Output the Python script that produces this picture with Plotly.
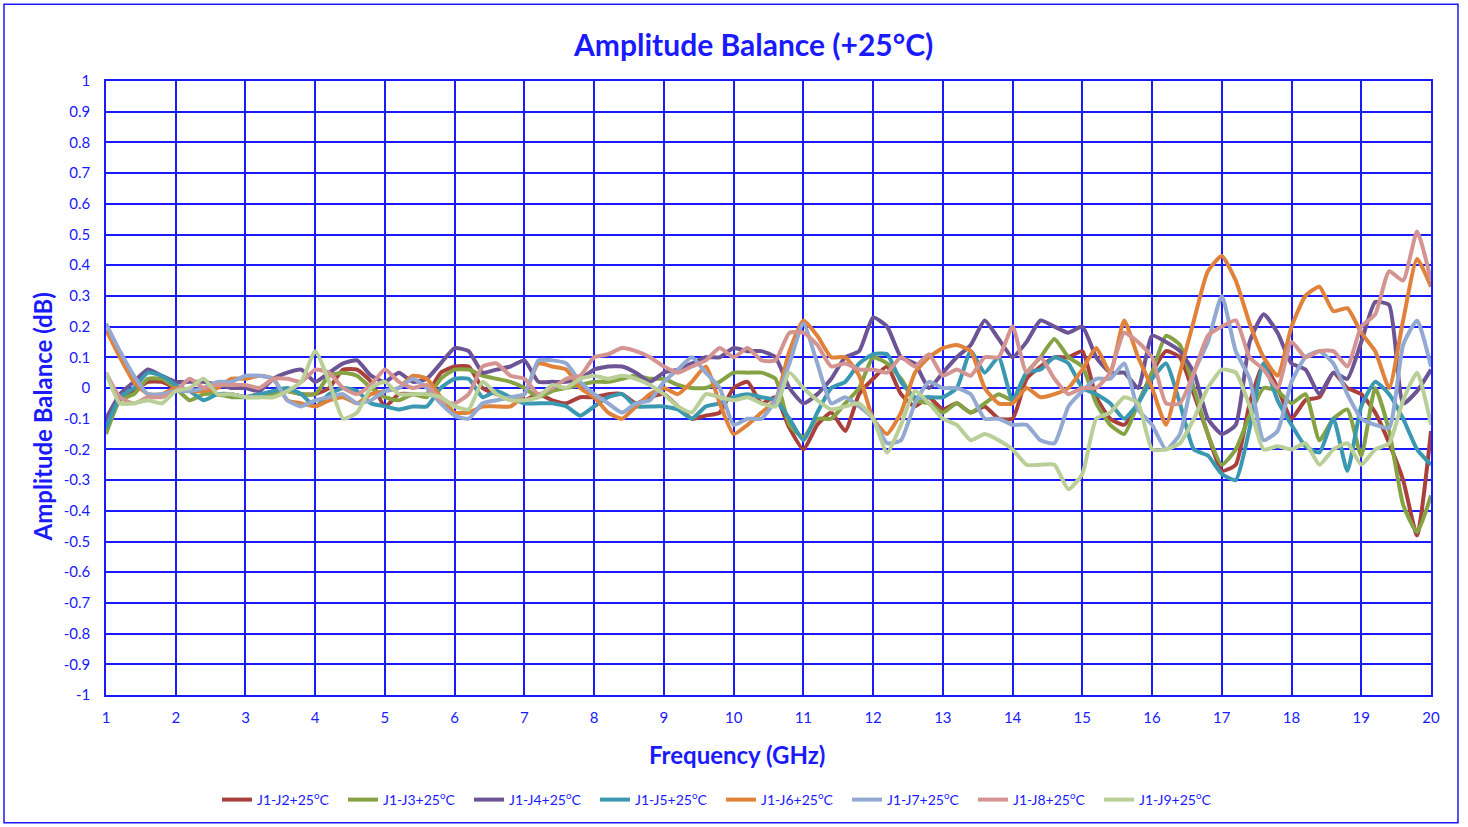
import plotly.graph_objects as go

freq_ghz = [round(1.0 + 0.2 * i, 1) for i in range(96)]

j1_j2 = [-0.12, -0.03, -0.01, 0.02, 0.02,
         0.00, -0.01, -0.01, -0.02, -0.02,
         -0.03, -0.02, -0.02, -0.01, -0.02,
         -0.02, 0.00, 0.06, 0.06, 0.02,
         -0.06, -0.02, -0.02, -0.02, 0.05,
         0.07, 0.07, 0.00, -0.02, -0.03,
         -0.04, -0.02, -0.04, -0.05, -0.03,
         -0.03, -0.02, -0.02, -0.05, -0.03,
         -0.02, -0.06, -0.10, -0.09, -0.08,
         0.00, 0.02, -0.05, -0.03, -0.13,
         -0.20, -0.12, -0.08, -0.14, -0.02,
         0.03, 0.07, -0.02, -0.06, -0.03,
         -0.07, -0.05, -0.08, -0.06, -0.10,
         -0.10, 0.03, 0.07, 0.10, 0.10,
         0.12, -0.03, -0.10, -0.12, -0.05,
         0.05, 0.12, 0.10, -0.02, -0.15,
         -0.27, -0.25, -0.05, 0.08, 0.00,
         -0.10, -0.04, -0.03, 0.05, 0.00,
         -0.02, -0.08, -0.18, -0.30, -0.48,
         -0.14]

j1_j3 = [-0.15, -0.04, -0.02, 0.03, 0.03,
         0.00, -0.04, -0.02, -0.02, -0.03,
         -0.03, -0.03, -0.02, -0.01, -0.02,
         -0.02, 0.04, 0.05, 0.04, 0.00,
         -0.03, -0.04, -0.02, -0.03, 0.03,
         0.06, 0.06, 0.04, 0.03, 0.02,
         0.00, -0.03, -0.01, 0.00, 0.01,
         0.02, 0.02, 0.03, 0.04, 0.03,
         0.03, 0.01, 0.00, 0.00, 0.02,
         0.05, 0.05, 0.05, 0.03, -0.12,
         -0.16, -0.10, -0.10, -0.05, 0.00,
         0.10, 0.08, 0.03, -0.04, -0.05,
         -0.08, -0.05, -0.08, -0.05, -0.02,
         -0.04, 0.05, 0.10, 0.16, 0.10,
         0.07, -0.05, -0.12, -0.15, -0.05,
         0.05, 0.17, 0.14, 0.00, -0.15,
         -0.25, -0.20, -0.09, 0.00, -0.01,
         -0.05, -0.02, -0.17, -0.10, -0.07,
         -0.22, 0.00, -0.14, -0.38, -0.47,
         -0.35]

j1_j4 = [-0.10, -0.02, 0.02, 0.06, 0.04,
         0.02, 0.02, 0.02, 0.01, 0.00,
         0.00, -0.01, 0.03, 0.05, 0.06,
         0.02, 0.05, 0.08, 0.09, 0.04,
         0.02, 0.05, 0.02, 0.03, 0.08,
         0.13, 0.12, 0.05, 0.06, 0.07,
         0.09, 0.02, 0.02, 0.02, 0.03,
         0.06, 0.07, 0.07, 0.05, 0.02,
         0.05, 0.06, 0.08, 0.10, 0.10,
         0.13, 0.12, 0.12, 0.10, 0.00,
         -0.05, -0.02, 0.03, 0.10, 0.12,
         0.23, 0.20, 0.10, 0.08, 0.00,
         0.05, 0.10, 0.14, 0.22, 0.16,
         0.10, 0.15, 0.22, 0.20, 0.18,
         0.20, 0.10, 0.05, 0.05, 0.00,
         0.17, 0.15, 0.12, 0.05, -0.10,
         -0.15, -0.12, 0.15, 0.24, 0.18,
         0.08, 0.06, -0.02, 0.05, 0.03,
         0.15, 0.28, 0.27, -0.05, -0.01,
         0.06]

j1_j5 = [-0.13, -0.03, 0.00, 0.05, 0.04,
         0.01, -0.01, -0.04, -0.02, -0.02,
         -0.03, -0.02, -0.01, 0.00, -0.02,
         -0.06, -0.02, 0.00, -0.01, -0.05,
         -0.06, -0.07, -0.06, -0.06, 0.00,
         0.03, 0.03, -0.03, -0.01, -0.03,
         -0.05, -0.05, -0.05, -0.06, -0.09,
         -0.06, -0.03, -0.02, -0.06, -0.06,
         -0.06, -0.07, -0.10, -0.06, -0.05,
         -0.03, -0.02, -0.03, -0.04, -0.10,
         -0.17, -0.08, 0.00, 0.02, 0.08,
         0.11, 0.11, 0.02, -0.03, -0.03,
         -0.03, 0.00, 0.12, 0.05, 0.10,
         -0.04, 0.05, 0.06, 0.10, 0.08,
         0.00, -0.02, -0.05, -0.10, -0.05,
         0.03, 0.08, -0.05, -0.20, -0.22,
         -0.28, -0.30, -0.13, 0.08, -0.04,
         -0.12, -0.19, -0.21, -0.10, -0.27,
         -0.06, 0.02, -0.02, -0.10, -0.20,
         -0.25]

j1_j6 = [0.19, 0.10, 0.02, -0.02, -0.02,
         0.00, -0.01, -0.01, 0.00, 0.03,
         0.03, 0.04, 0.03, -0.04, -0.05,
         -0.06, -0.04, -0.03, -0.05, -0.02,
         -0.01, 0.00, 0.04, 0.03, -0.03,
         -0.08, -0.08, -0.06, -0.06, -0.06,
         -0.02, 0.08, 0.07, 0.06, 0.00,
         -0.03, -0.08, -0.10, -0.06, -0.02,
         0.00, -0.02, 0.02, 0.07, -0.05,
         -0.15, -0.12, -0.08, -0.04, 0.12,
         0.22, 0.17, 0.10, 0.10, 0.04,
         -0.10, -0.15, -0.08, 0.05, 0.10,
         0.13, 0.14, 0.12, 0.00, -0.05,
         -0.05, 0.00, -0.03, -0.02, 0.00,
         0.06, 0.13, 0.05, 0.22, 0.10,
         0.00, -0.12, 0.05, 0.22, 0.38,
         0.43, 0.35, 0.21, 0.10, 0.04,
         0.20, 0.30, 0.33, 0.25, 0.26,
         0.18, 0.12, 0.00, 0.22, 0.42,
         0.33]

j1_j7 = [0.21, 0.12, 0.04, -0.02, -0.02,
         -0.01, -0.01, 0.00, 0.02, 0.02,
         0.04, 0.04, 0.03, -0.04, -0.06,
         -0.04, -0.03, -0.02, -0.05, -0.04,
         -0.01, 0.00, 0.03, 0.00, -0.05,
         -0.09, -0.10, -0.05, -0.04, -0.03,
         -0.02, 0.09, 0.09, 0.08, 0.02,
         -0.02, -0.05, -0.08, -0.05, -0.04,
         0.02, 0.06, 0.10, 0.05, 0.00,
         -0.12, -0.10, -0.10, -0.04, 0.08,
         0.21, 0.08, -0.05, -0.03, -0.06,
         -0.10, -0.18, -0.17, -0.05, 0.02,
         0.00, 0.00, -0.02, -0.10, -0.10,
         -0.12, -0.12, -0.17, -0.18, -0.06,
         -0.01, 0.03, 0.03, 0.08, -0.07,
         -0.12, -0.20, -0.15, 0.05, 0.15,
         0.30, 0.12, 0.03, -0.17, -0.14,
         0.02, 0.10, 0.12, 0.08, -0.02,
         -0.10, -0.12, -0.13, 0.14, 0.22,
         0.07]

j1_j8 = [0.05, -0.03, -0.05, -0.03, -0.03,
         -0.01, 0.03, 0.00, 0.01, 0.01,
         0.01, 0.00, 0.03, 0.03, 0.02,
         0.06, 0.05, 0.00, -0.02, 0.01,
         0.06, 0.02, 0.00, 0.01, -0.04,
         -0.05, -0.02, 0.07, 0.08, 0.04,
         0.03, -0.02, 0.00, 0.03, 0.04,
         0.10, 0.11, 0.13, 0.12, 0.10,
         0.07, 0.05, 0.07, 0.09, 0.13,
         0.10, 0.13, 0.09, 0.09, 0.18,
         0.18, 0.14, 0.07, 0.08, 0.06,
         0.06, 0.05, 0.10, 0.07, 0.11,
         0.04, 0.06, 0.04, 0.10, 0.10,
         0.20, 0.05, 0.10, 0.03, -0.02,
         0.00, 0.00, 0.05, 0.18, 0.15,
         0.10, -0.05, -0.05, 0.05, 0.17,
         0.20, 0.22, 0.10, 0.06, 0.00,
         0.15, 0.10, 0.12, 0.12, 0.07,
         0.20, 0.24, 0.38, 0.35, 0.51,
         0.35]

j1_j9 = [0.05, -0.05, -0.05, -0.04, -0.05,
         -0.01, 0.00, 0.03, -0.02, -0.02,
         -0.03, -0.03, -0.03, -0.01, 0.02,
         0.12, 0.02, -0.10, -0.08, 0.00,
         0.02, -0.02, -0.02, -0.02, -0.03,
         -0.06, -0.07, 0.02, -0.02, -0.04,
         -0.04, -0.03, 0.01, 0.00, 0.03,
         0.04, 0.03, 0.04, 0.03, 0.01,
         -0.02, -0.06, -0.08, -0.02, -0.03,
         -0.04, -0.03, -0.05, -0.06, 0.05,
         0.00, -0.04, -0.07, -0.06, -0.05,
         -0.10, -0.21, -0.12, -0.01, -0.05,
         -0.10, -0.12, -0.17, -0.15, -0.17,
         -0.20, -0.25, -0.25, -0.25, -0.33,
         -0.28, -0.10, -0.08, -0.03, -0.05,
         -0.20, -0.20, -0.18, -0.10, 0.00,
         0.06, 0.05, -0.06, -0.20, -0.19,
         -0.20, -0.18, -0.25, -0.20, -0.18,
         -0.25, -0.20, -0.18, -0.04, 0.05,
         -0.12]

series_names = ["J1-J2+25<sup>o</sup>C", "J1-J3+25<sup>o</sup>C", "J1-J4+25<sup>o</sup>C",
                "J1-J5+25<sup>o</sup>C", "J1-J6+25<sup>o</sup>C", "J1-J7+25<sup>o</sup>C",
                "J1-J8+25<sup>o</sup>C", "J1-J9+25<sup>o</sup>C"]
series_values = [j1_j2, j1_j3, j1_j4, j1_j5, j1_j6, j1_j7, j1_j8, j1_j9]
series_colors = ["#A9403C", "#86A344", "#6D5495", "#3A98B1",
                 "#E0823A", "#92A9D2", "#D49492", "#B9CF97"]

x_ticks = list(range(1, 21))
y_tick_vals = [round(-1 + 0.1 * i, 1) for i in range(21)]
y_tick_text = ["-1", "-0.9", "-0.8", "-0.7", "-0.6", "-0.5", "-0.4", "-0.3", "-0.2", "-0.1",
               "0", "0.1", "0.2", "0.3", "0.4", "0.5", "0.6", "0.7", "0.8", "0.9", "1"]

BLUE = "#1a1aff"
FONT = "Lato"

fig = go.Figure()
for name, vals, col in zip(series_names, series_values, series_colors):
    fig.add_trace(go.Scatter(x=freq_ghz, y=vals, mode="lines", name=name,
                             line=dict(color=col, width=4, shape="spline", smoothing=0.5)))

# figure fills the 1468x827 window (body margin removed by post_script)
W, H = 1468, 827
# plot area in page pixels: x 106..1431, y 81..696
PL, PR, PT, PB = 106, 1431, 81, 696
L, R, T, B = PL, W - PR, PT, H - PB
pw, ph = PR - PL, PB - PT

def px_x(page_x):
    return (page_x - PL) / pw

def px_y(page_y):
    return (PB - page_y) / ph

fig.update_layout(
    width=W, height=H,
    margin=dict(l=L, r=R, t=T, b=B),
    paper_bgcolor="white", plot_bgcolor="white",
    font=dict(family=FONT, color=BLUE),
    showlegend=True,
    legend=dict(orientation="h", x=px_x(721), xanchor="center", y=px_y(800), yanchor="middle",
                font=dict(family=FONT, size=14, color=BLUE),
                entrywidth=81, entrywidthmode="pixels", bgcolor="rgba(0,0,0,0)"),
    xaxis=dict(range=[1, 20], tickvals=x_ticks, showgrid=True, gridcolor=BLUE, gridwidth=1.5,
               showline=True, linecolor=BLUE, linewidth=1.5, mirror=True, zeroline=False,
               ticks="", ticklabelstandoff=8,
               tickfont=dict(family=FONT, size=15, color=BLUE)),
    yaxis=dict(range=[-1, 1], tickvals=y_tick_vals, ticktext=y_tick_text, showgrid=True,
               gridcolor=BLUE, gridwidth=1.5, showline=True, linecolor=BLUE, linewidth=1.5,
               mirror=True, zeroline=False, ticks="", ticklabelstandoff=11,
               tickfont=dict(family=FONT, size=15, color=BLUE)),
    annotations=[
        dict(text="<b>Amplitude Balance (+25°C)</b>", xref="paper", yref="paper",
             x=px_x(753), y=px_y(44), xanchor="center", yanchor="middle", showarrow=False,
             font=dict(family=FONT, size=30, color=BLUE)),
        dict(text="<b>Frequency (GHz)</b>", xref="paper", yref="paper",
             x=px_x(737), y=px_y(756), xanchor="center", yanchor="middle", showarrow=False,
             font=dict(family=FONT, size=24, color=BLUE)),
        dict(text="<b>Amplitude Balance (dB)</b>", xref="paper", yref="paper",
             x=px_x(42), y=px_y(418), xanchor="center", yanchor="middle", showarrow=False,
             textangle=-90, font=dict(family=FONT, size=24, color=BLUE)),
    ],
    shapes=[dict(type="rect", xref="paper", yref="paper",
                 x0=px_x(4), x1=px_x(1458), y0=px_y(824), y1=px_y(4),
                 line=dict(color=BLUE, width=1.5), fillcolor="rgba(0,0,0,0)", layer="below")],
)

fig.write_html("out.html", config={"displayModeBar": False},
               post_script="document.body.style.margin='0';document.body.style.overflow='hidden';"
                           "document.documentElement.style.overflow='hidden';")
